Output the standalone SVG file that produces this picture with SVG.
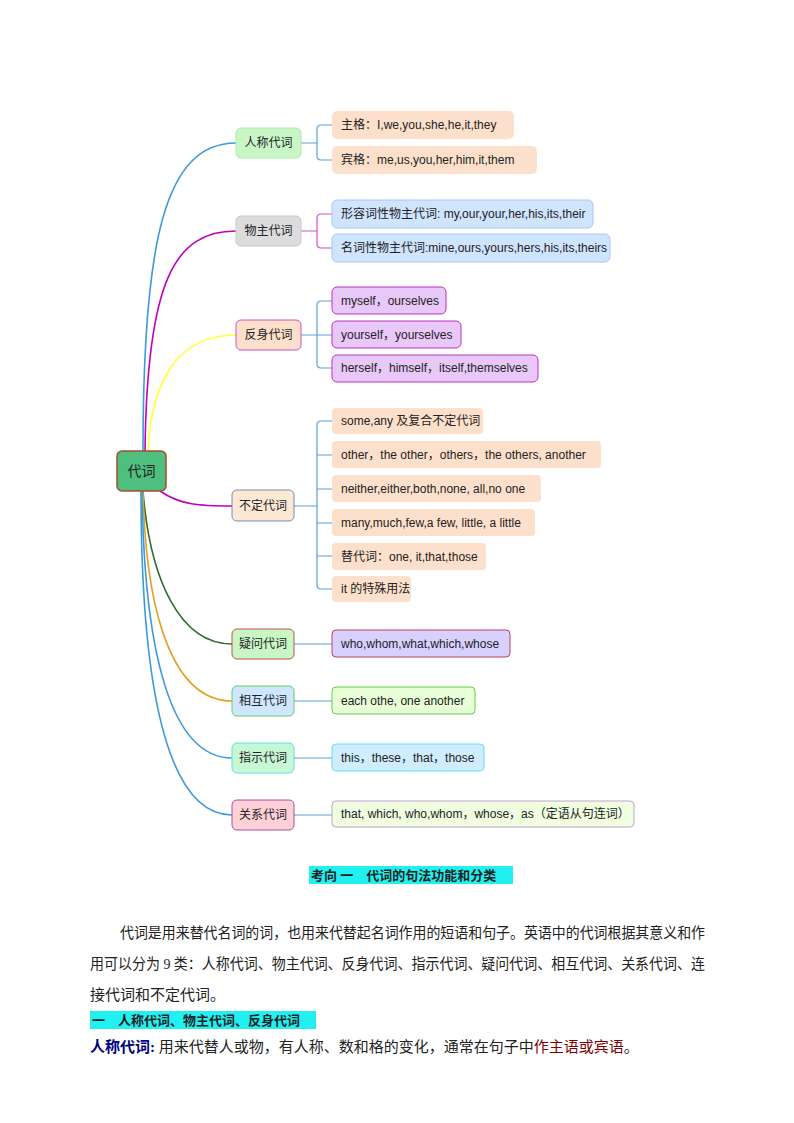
<svg xmlns="http://www.w3.org/2000/svg" width="794" height="1123" viewBox="0 0 794 1123">
<style>
text{font-family:"Liberation Sans","Noto Sans CJK SC",sans-serif;font-size:12px;fill:#222;dominant-baseline:central}
.n{text-anchor:middle}
.c{fill:none;stroke-width:1.6}
.b{fill:none;stroke:#5aa0d8;stroke-width:1.2}
.body{font-family:"Liberation Serif","Noto Sans CJK SC",serif;font-size:15px;dominant-baseline:alphabetic}
.h{font-weight:bold;font-size:13px}
</style>
<rect width="794" height="1123" fill="#fff"/>
<g id="connectors">
<path class="c" stroke="#3b9ad9" d="M143 451 C143 240 165 143 236 143"/>
<path class="c" stroke="#c000c0" d="M145 451 C147 280 175 231 236 231"/>
<path class="c" stroke="#ffff40" d="M148 451 C152 370 185 335 236 335"/>
<path class="c" stroke="#c000c0" d="M160 491 C180 505 200 506 232 506"/>
<path class="c" stroke="#2f6b2f" d="M143 491 C150 580 180 644 232 644"/>
<path class="c" stroke="#e0a020" d="M143 491 C146 620 175 701 232 701"/>
<path class="c" stroke="#3b9ad9" d="M142 491 C144 650 170 758 232 758"/>
<path class="c" stroke="#3b9ad9" d="M141 491 C141 680 165 815 232 815"/>
<path class="b" d="M301 143 H317 M332 125 H321 Q317 125 317 129 V156 Q317 160 321 160 H332"/>
<path class="b" stroke="#c000c0" style="stroke:#d050d0" d="M301 231 H317 M332 214 H321 Q317 214 317 218 V244 Q317 248 321 248 H332"/>
<path class="b" d="M301 335 H332 M332 301 H321 Q317 301 317 305 V364 Q317 368 321 368 H332"/>
<path class="b" d="M294 506 H317 M332 421 H321 Q317 421 317 425 V585 Q317 589 321 589 H332 M317 455 H332 M317 489 H332 M317 523 H332 M317 556 H332"/>
<path class="b" d="M294 644 H332 M294 701 H332 M294 758 H332 M294 815 H332"/>
</g>
<g id="root"><rect x="117" y="451" width="49" height="40" rx="5" fill="#4fbf80" stroke="#a0522d" stroke-width="1.5"/><text class="n" x="141.5" y="471" style="font-size:14px">代词</text></g>
<g id="n1"><rect x="236" y="128" width="65" height="30" rx="5" fill="#c8f7c5" stroke="#b0eab0"/><text class="n" x="268.5" y="143">人称代词</text></g>
<g id="n2"><rect x="236" y="216" width="65" height="30" rx="5" fill="#dcdcdc" stroke="#c8c8c8"/><text class="n" x="268.5" y="231">物主代词</text></g>
<g id="n3"><rect x="236" y="320" width="65" height="30" rx="5" fill="#fde0cc" stroke="#d050c0"/><text class="n" x="268.5" y="335">反身代词</text></g>
<g id="n4"><rect x="232" y="490" width="62" height="31" rx="5" fill="#fde8d6" stroke="#7090b0"/><text class="n" x="263" y="506">不定代词</text></g>
<g id="n5"><rect x="232" y="629" width="62" height="30" rx="5" fill="#c8f7c5" stroke="#c05050"/><text class="n" x="263" y="644">疑问代词</text></g>
<g id="n6"><rect x="232" y="686" width="62" height="30" rx="5" fill="#cfe6ff" stroke="#60d060"/><text class="n" x="263" y="701">相互代词</text></g>
<g id="n7"><rect x="232" y="743" width="62" height="30" rx="5" fill="#c8f7d5" stroke="#60e0e0"/><text class="n" x="263" y="758">指示代词</text></g>
<g id="n8"><rect x="232" y="800" width="62" height="30" rx="5" fill="#ffd0d8" stroke="#a050a0"/><text class="n" x="263" y="815">关系代词</text></g>
<g id="l1"><rect x="332" y="111" width="182" height="28" rx="5" fill="#fde0cc"/><text x="341" y="125">主格：I,we,you,she,he,it,they</text></g>
<g id="l2"><rect x="332" y="146" width="205" height="28" rx="5" fill="#fde0cc"/><text x="341" y="160">宾格：me,us,you,her,him,it,them</text></g>
<g id="l3"><rect x="332" y="200" width="261" height="28" rx="5" fill="#cfe4ff" stroke="#a8c8f0"/><text x="341" y="214">形容词性物主代词: my,our,your,her,his,its,their</text></g>
<g id="l4"><rect x="332" y="234" width="278" height="28" rx="5" fill="#cfe4ff" stroke="#a8c8f0"/><text x="341" y="248">名词性物主代词:mine,ours,yours,hers,his,its,theirs</text></g>
<g id="l5"><rect x="332" y="287" width="114" height="27" rx="5" fill="#e8c8f8" stroke="#c030c0"/><text x="341" y="301">myself，ourselves</text></g>
<g id="l6"><rect x="332" y="321" width="129" height="27" rx="5" fill="#e8c8f8" stroke="#c030c0"/><text x="341" y="335">yourself，yourselves</text></g>
<g id="l7"><rect x="332" y="355" width="206" height="27" rx="5" fill="#e8c8f8" stroke="#c030c0"/><text x="341" y="368">herself，himself，itself,themselves</text></g>
<g id="l8"><rect x="332" y="408" width="151" height="26" rx="4" fill="#fde0cc"/><text x="341" y="421">some,any 及复合不定代词</text></g>
<g id="l9"><rect x="332" y="441" width="269" height="27" rx="4" fill="#fde0cc"/><text x="341" y="455">other，the other，others，the others, another</text></g>
<g id="l10"><rect x="332" y="475" width="209" height="27" rx="4" fill="#fde0cc"/><text x="341" y="489">neither,either,both,none, all,no one</text></g>
<g id="l11"><rect x="332" y="509" width="203" height="27" rx="4" fill="#fde0cc"/><text x="341" y="523">many,much,few,a few, little, a little</text></g>
<g id="l12"><rect x="332" y="543" width="154" height="27" rx="4" fill="#fde0cc"/><text x="341" y="557">替代词：one, it,that,those</text></g>
<g id="l13"><rect x="332" y="576" width="79" height="26" rx="4" fill="#fde0cc"/><text x="341" y="589">it 的特殊用法</text></g>
<g id="l14"><rect x="332" y="630" width="178" height="27" rx="4" fill="#d8d0ff" stroke="#c04060"/><text x="341" y="644">who,whom,what,which,whose</text></g>
<g id="l15"><rect x="332" y="687" width="143" height="27" rx="4" fill="#e8ffd8" stroke="#60d040"/><text x="341" y="701">each othe, one another</text></g>
<g id="l16"><rect x="332" y="744" width="152" height="27" rx="4" fill="#d0ecff" stroke="#60e0f0"/><text x="341" y="758">this，these，that，those</text></g>
<g id="l17"><rect x="332" y="801" width="302" height="26" rx="4" fill="#f0ffe0" stroke="#c0a0d0"/><text x="341" y="814">that, which, who,whom，whose，as（定语从句连词）</text></g>
<g id="text">
<rect x="309" y="866" width="204" height="18" fill="#20f0f0"/>
<text class="body h" x="311" y="880">考向 一　代词的句法功能和分类</text>
<text class="body" x="120" y="938" textLength="585" lengthAdjust="spacingAndGlyphs">代词是用来替代名词的词，也用来代替起名词作用的短语和句子。英语中的代词根据其意义和作</text>
<text class="body" x="90" y="969" textLength="615" lengthAdjust="spacingAndGlyphs">用可以分为 9 类：人称代词、物主代词、反身代词、指示代词、疑问代词、相互代词、关系代词、连</text>
<text class="body" x="90" y="1000">接代词和不定代词。</text>
<rect x="90" y="1011" width="226" height="18" fill="#20f0f0"/>
<text class="body h" x="92" y="1025">一　人称代词、物主代词、反身代词</text>
<text class="body" x="90" y="1052"><tspan font-weight="bold" fill="#000080" style="fill:#000080">人称代词:</tspan> 用来代替人或物，有人称、数和格的变化，通常在句子中<tspan style="fill:#800000">作主语或宾语</tspan>。</text>
</g>
</svg>
